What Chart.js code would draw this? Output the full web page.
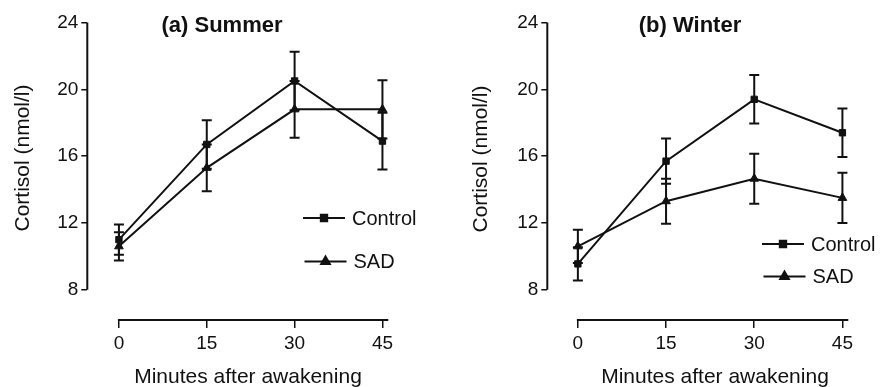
<!DOCTYPE html>
<html>
<head>
<meta charset="utf-8">
<script src="https://cdn.jsdelivr.net/npm/chart.js@4"></script>
<style>
  body { margin: 0; background: #fff; }
  .panel { position: absolute; top: 0; width: 440px; height: 387px; }
</style>
</head>
<body>
<div class="panel" style="left:0"><canvas id="summerChart" width="440" height="387"></canvas></div>
<div class="panel" style="left:440px"><canvas id="winterChart" width="440" height="387"></canvas></div>
<script>
/* data */
var minutes = [0, 15, 30, 45];
var xTicks = [0, 15, 30, 45];
var yTicks = [8, 12, 16, 20, 24];

var summerControl = [11.0, 16.7, 20.5, 16.9];
var summerControlErr = [0.9, 1.45, 1.75, 1.7];
var summerSad = [10.6, 15.3, 18.8, 18.8];
var summerSadErr = [0.85, 1.4, 1.7, 1.75];

var winterControl = [9.55, 15.7, 19.4, 17.4];
var winterControlErr = [1.0, 1.35, 1.45, 1.45];
var winterSad = [10.6, 13.3, 14.65, 13.5];
var winterSadErr = [1.0, 1.35, 1.5, 1.5];

var INK = '#111';
var FONT = "'Liberation Sans', Arial, Helvetica, sans-serif";
Chart.defaults.font.family = FONT;
Chart.defaults.color = INK;

function toPoints(values) {
  return values.map(function(v, i) { return {x: minutes[i], y: v}; });
}

/* error bars, axis lines, titles and the legend, all placed through the scales */
var panelDecor = {
  id: 'panelDecor',
  beforeDatasetsDraw: function(chart) {
    var ctx = chart.ctx;
    var yScale = chart.scales.y;
    ctx.save();
    ctx.strokeStyle = INK;
    ctx.lineWidth = 2;
    chart.data.datasets.forEach(function(ds, i) {
      var meta = chart.getDatasetMeta(i);
      ds.data.forEach(function(p, j) {
        var x = meta.data[j].x;
        var hi = yScale.getPixelForValue(p.y + ds.errors[j]);
        var lo = yScale.getPixelForValue(p.y - ds.errors[j]);
        ctx.beginPath();
        ctx.moveTo(x, hi); ctx.lineTo(x, lo);
        ctx.moveTo(x - 5, hi); ctx.lineTo(x + 5, hi);
        ctx.moveTo(x - 5, lo); ctx.lineTo(x + 5, lo);
        ctx.stroke();
      });
    });
    ctx.restore();
  },
  afterDraw: function(chart, args, opts) {
    var ctx = chart.ctx;
    var xs = chart.scales.x, ys = chart.scales.y;
    var area = chart.chartArea;
    ctx.save();
    ctx.strokeStyle = INK;
    ctx.fillStyle = INK;
    ctx.lineWidth = 2;

    // axis lines (y only from 8 to 24, x detached below)
    ctx.beginPath();
    ctx.moveTo(area.left, ys.getPixelForValue(24));
    ctx.lineTo(area.left, ys.getPixelForValue(8));
    ctx.moveTo(xs.getPixelForValue(0) - 1, area.bottom);
    ctx.lineTo(area.right, area.bottom);
    ctx.stroke();

    // panel title
    ctx.font = 'bold 22px ' + FONT;
    ctx.textAlign = 'center';
    ctx.textBaseline = 'alphabetic';
    ctx.fillText(opts.title, opts.titleX, 32);

    // x axis title
    ctx.font = '21px ' + FONT;
    ctx.fillText('Minutes after awakening', opts.xTitleX, 383);

    // y axis title
    ctx.save();
    ctx.translate(opts.yTitleX, opts.yTitleY);
    ctx.rotate(-Math.PI / 2);
    ctx.textBaseline = 'middle';
    ctx.fillText('Cortisol (nmol/l)', 0, 0);
    ctx.restore();

    // legend
    ctx.font = '20px ' + FONT;
    ctx.textAlign = 'left';
    ctx.textBaseline = 'middle';
    chart.data.datasets.forEach(function(ds, i) {
      var lx = opts.legendX + i * 1.5;
      var ly = opts.legendY + i * opts.legendGap;
      ctx.beginPath();
      ctx.moveTo(lx, ly); ctx.lineTo(lx + 42, ly);
      ctx.stroke();
      Chart.helpers.drawPoint(ctx, {pointStyle: ds.pointStyle, radius: ds.pointRadius, borderWidth: 1}, lx + 21, ly);
      ctx.fill();
      ctx.fillText(ds.label, lx + 49, ly + 1);
    });
    ctx.restore();
  }
};

function makeDataset(label, values, errors, style, radius) {
  return {
    label: label,
    data: toPoints(values),
    errors: errors,
    borderColor: INK,
    backgroundColor: INK,
    borderWidth: 2,
    pointStyle: style,
    pointRadius: radius,
    pointBorderWidth: 1,
    tension: 0
  };
}

function makeChart(canvasId, control, controlErr, sad, sadErr, layout) {
  var ctx = document.getElementById(canvasId).getContext('2d');
  return new Chart(ctx, {
    type: 'line',
    data: {
      datasets: [
        makeDataset('Control', control, controlErr, 'rect', 4.5),
        makeDataset('SAD', sad, sadErr, 'triangle', 5)
      ]
    },
    options: {
      responsive: false,
      animation: false,
      devicePixelRatio: 1,
      layout: { padding: { left: 0, top: 22.5, right: layout.right, bottom: 0 } },
      plugins: {
        legend: { display: false },
        tooltip: { enabled: false },
        panelDecor: layout.decor
      },
      scales: {
        x: {
          type: 'linear',
          min: layout.xMin,
          max: 46,
          afterBuildTicks: function(scale) { scale.ticks = xTicks.map(function(v) { return {value: v}; }); },
          afterFit: function(scale) { scale.height = 67; },
          border: { display: false },
          grid: { drawOnChartArea: false, color: INK, lineWidth: 1.5, tickLength: 8 },
          ticks: { font: { size: 19 }, color: INK, padding: 4, maxRotation: 0 }
        },
        y: {
          type: 'linear',
          min: 6.19,
          max: 24,
          afterBuildTicks: function(scale) { scale.ticks = yTicks.map(function(v) { return {value: v}; }); },
          afterFit: function(scale) { scale.width = layout.axisX; },
          border: { display: false },
          grid: { drawOnChartArea: false, color: INK, lineWidth: 1.5, tickLength: 6 },
          ticks: { font: { size: 19 }, color: INK, padding: 3 }
        }
      }
    },
    plugins: [panelDecor]
  });
}

window.summerChart = makeChart('summerChart', summerControl, summerControlErr, summerSad, summerSadErr, {
  axisX: 87.3, right: 51.7, xMin: -5.4,
  decor: { title: '(a) Summer', titleX: 222, xTitleX: 248, yTitleX: 23, yTitleY: 158,
           legendX: 303, legendY: 218, legendGap: 43.5 }
});

window.winterChart = makeChart('winterChart', winterControl, winterControlErr, winterSad, winterSadErr, {
  axisX: 107.3, right: 31.7, xMin: -5.2,
  decor: { title: '(b) Winter', titleX: 250, xTitleX: 275, yTitleX: 41.5, yTitleY: 159,
           legendX: 322, legendY: 244, legendGap: 32.5 }
});
</script>
</body>
</html>
